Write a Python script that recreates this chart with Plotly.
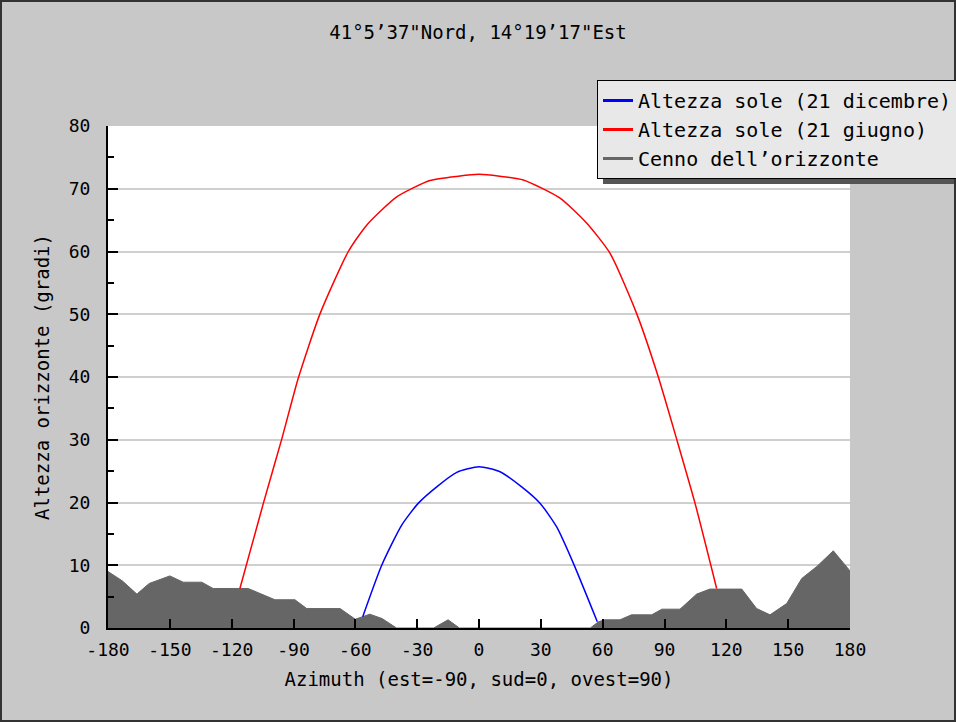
import plotly.graph_objects as go

# ---- data ----
horizon_az = [-180, -173, -166, -160, -150, -143.5, -134.5, -129, -112, -106, -99, -89.3, -83.6,
              -67.4, -60, -53, -47, -40, -22, -15, -9.5, 54, 58, 61, 68.4, 74, 83.8, 88.7, 97.5,
              105.6, 112, 127.5, 134.7, 141.2, 149.3, 156.6, 163.9, 171.9, 180]
horizon_alt = [9.0, 7.5, 5.4, 7.1, 8.3, 7.3, 7.3, 6.3, 6.3, 5.5, 4.5, 4.5, 3.1,
               3.1, 1.4, 2.2, 1.5, 0.0, 0.0, 1.3, 0.0, 0.0, 1.0, 1.3, 1.3, 2.1, 2.1, 3.0, 3.0,
               5.4, 6.2, 6.2, 3.1, 2.1, 3.9, 7.9, 9.8, 12.3, 9.1]

june_az = [-116, -104.6, -95.7, -87.7, -77.1, -63.4, -54.5, -39.9, -23.8, -10, 0,
           10, 21.5, 39.3, 52.3, 63.6, 76.5, 87, 95.9, 104.8, 115.3]
june_alt = [6.3, 19.9, 30.1, 39.8, 50.1, 60.0, 64.2, 68.7, 71.3, 72.0, 72.3,
            72.0, 71.4, 68.5, 64.5, 59.7, 50.1, 40.0, 30.1, 19.9, 6.3]

dec_az = [-56.4, -47.2, -37.5, -29.4, -20.5, -10.8, 0, 10.2, 20.7, 29.6, 37.7, 45.8, 57.4]
dec_alt = [1.8, 10.0, 16.4, 19.9, 22.5, 24.8, 25.7, 24.9, 22.5, 19.9, 16.1, 10.3, 1.0]

x_ticks = [-180, -150, -120, -90, -60, -30, 0, 30, 60, 90, 120, 150, 180]
y_ticks = [0, 10, 20, 30, 40, 50, 60, 70, 80]

title_text = "41°5’37\"Nord, 14°19’17\"Est"
name_dec = "Altezza sole (21 dicembre)"
name_jun = "Altezza sole (21 giugno)"
name_hor = "Cenno dell’orizzonte"
x_title = "Azimuth (est=-90, sud=0, ovest=90)"
y_title = "Altezza orizzonte (gradi)"

FONT = "DejaVu Sans Mono"
W, H = 956, 722
L, R, T, B = 108, 106, 126, 94
pw, ph = W - L - R, H - T - B


def px(xp):
    return (xp - L) / pw


def py(yp):
    return (H - B - yp) / ph


fig = go.Figure()

fig.add_trace(go.Scatter(x=horizon_az, y=horizon_alt, mode="lines", fill="tozeroy",
                         fillcolor="#666666", line=dict(color="#666666", width=1),
                         showlegend=False, hoverinfo="skip"))
fig.add_trace(go.Scatter(x=dec_az, y=dec_alt, mode="lines",
                         line=dict(color="#0000ff", width=1.5, shape="spline", smoothing=0.6),
                         showlegend=False))
fig.add_trace(go.Scatter(x=june_az, y=june_alt, mode="lines",
                         line=dict(color="#ff0000", width=1.5, shape="spline", smoothing=0.6),
                         showlegend=False))

# legend entries
for nm, col in [(name_dec, "#0000ff"), (name_jun, "#ff0000"), (name_hor, "#666666")]:
    fig.add_trace(go.Scatter(x=[None], y=[None], mode="lines", name=nm,
                             line=dict(color=col, width=3)))

shapes = [
    # legend shadow
    dict(type="rect", xref="paper", yref="paper", x0=px(603), x1=px(962), y0=py(184), y1=py(86),
         fillcolor="#555555", line=dict(width=0), layer="above"),
    # outer border
    dict(type="rect", xref="paper", yref="paper", x0=px(1), x1=px(955), y0=py(721), y1=py(1),
         line=dict(color="#333333", width=2), fillcolor="rgba(0,0,0,0)", layer="above"),
]

fig.update_layout(
    width=W, height=H,
    margin=dict(l=L, r=R, t=T, b=B, autoexpand=False),
    paper_bgcolor="#c8c8c8",
    plot_bgcolor="#ffffff",
    font=dict(family=FONT, size=18, color="#000000"),
    title=dict(text=title_text, x=0.5, xanchor="center", y=1 - 32 / H, yanchor="middle",
               font=dict(family=FONT, size=19, color="#000000")),
    showlegend=True,
    legend=dict(x=px(597), y=py(80), xanchor="left", yanchor="top",
                bgcolor="#e8e8e8", bordercolor="#000000", borderwidth=1,
                font=dict(family=FONT, size=20, color="#000000"),
                tracegroupgap=0, itemwidth=30),
    shapes=shapes,
)

fig.update_xaxes(range=[-180, 180], tickmode="array", tickvals=x_ticks,
                 ticktext=[str(v) for v in x_ticks],
                 ticks="inside", ticklen=9, tickwidth=2, tickcolor="#000000",
                 showline=True, linecolor="#000000", linewidth=2, mirror=False,
                 showgrid=False, zeroline=False,
                 tickfont=dict(family=FONT, size=18), ticklabelstandoff=4,
                 title=dict(text=x_title, font=dict(family=FONT, size=19), standoff=14))

fig.update_yaxes(range=[0, 80], tickmode="array", tickvals=y_ticks,
                 ticks="inside", ticklen=10, tickwidth=2, tickcolor="#000000",
                 minor=dict(ticks="inside", ticklen=6, tickwidth=2, tickcolor="#000000",
                            dtick=5, showgrid=False),
                 showline=True, linecolor="#000000", linewidth=2, mirror=False,
                 showgrid=True, gridcolor="#cfcfcf", gridwidth=1.5, zeroline=False,
                 tickfont=dict(family=FONT, size=18), ticklabelstandoff=12,
                 title=dict(text=y_title, font=dict(family=FONT, size=19), standoff=14))

fig.write_html("out.html", config={"displayModeBar": False},
               post_script="document.body.style.margin='0';document.body.style.overflow='hidden';")
